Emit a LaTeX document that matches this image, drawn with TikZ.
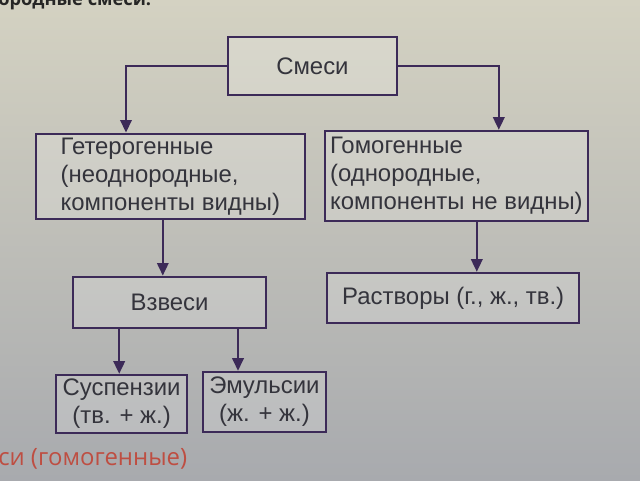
\documentclass[tikz,border=0pt]{standalone}
\usepackage{fontspec}
\setmainfont{Liberation Sans}
\newfontfamily\pagefont{Open Sans}
\usetikzlibrary{arrows.meta}
\definecolor{liniya}{RGB}{60,42,88}
\definecolor{tekst}{RGB}{52,52,60}
\definecolor{fonverh}{RGB}{212,210,194}
\definecolor{fonniz}{RGB}{168,170,174}
\definecolor{krasnyj}{RGB}{190,78,66}
\tikzset{
  blok/.style={draw=liniya, line width=1.6pt, fill=white, fill opacity=0.18,
    text opacity=1, text=tekst, inner sep=0pt, align=left,
    font=\fontsize{17}{20}\selectfont},
  strelka/.style={draw=liniya, line width=1.8pt,
    -{Triangle[length=9pt,width=8pt]}}
}
\begin{document}
\begin{tikzpicture}
	\clip (0,0) rectangle (16,12);
	\useasboundingbox (0,0) rectangle (16,12);
	\shade[top color=fonverh, bottom color=fonniz] (0,0) rectangle (16,12);

	% page text around the scheme
	\node[anchor=base west, inner sep=0pt, font=\pagefont\bfseries\fontsize{13}{15}\selectfont, text=black!85] (verh) at (-0.05,11.86) {ородные смеси.};
	\node[anchor=west, inner sep=0pt, font=\pagefont\fontsize{17}{20}\selectfont, text=krasnyj] (niz) at (-0.05,0.52) {си (гомогенные)};

	% boxes
	\node[blok, minimum width=4.23cm, minimum height=1.45cm] (smesi)  at ( 7.81,10.35) {Смеси};
	\node[blok, minimum width=6.73cm, minimum height=2.13cm] (geter)  at ( 4.26, 7.59) {Гетерогенные\\(неоднородные,\\компоненты видны)};
	\node[blok, minimum width=6.58cm, minimum height=2.25cm] (gomog)  at (11.41, 7.60) {Гомогенные\\(однородные,\\компоненты не видны)};
	\node[blok, minimum width=6.30cm, minimum height=1.25cm] (rastv)  at (11.33, 4.55) {Растворы (г., ж., тв.)};
	\node[blok, minimum width=4.83cm, minimum height=1.28cm] (vzvesi) at ( 4.24, 4.44) {Взвеси};
	\node[blok, minimum width=3.28cm, minimum height=1.45cm, align=center] (susp)  at ( 3.04, 1.90) {Суспензии\\(тв. + ж.)};
	\node[blok, minimum width=3.08cm, minimum height=1.50cm, align=center] (emuls) at ( 6.61, 1.95) {Эмульсии\\(ж. + ж.)};

	% connectors
	\draw[strelka] (smesi.west) -| ([xshift=-1.11cm]geter.north);
	\draw[strelka] (smesi.east) -| ([xshift= 1.06cm]gomog.north);
	\draw[strelka] ([xshift=-0.19cm]geter.south) -- ([xshift=-0.19cm]geter.south |- vzvesi.north);
	\draw[strelka] ([xshift= 0.51cm]gomog.south) -- ([xshift= 0.51cm]gomog.south |- rastv.north);
	\draw[strelka] ([xshift=-1.26cm]vzvesi.south) -- ([xshift=-1.26cm]vzvesi.south |- susp.north);
	\draw[strelka] ([xshift= 1.71cm]vzvesi.south) -- ([xshift= 1.71cm]vzvesi.south |- emuls.north);
\end{tikzpicture}
\end{document}
